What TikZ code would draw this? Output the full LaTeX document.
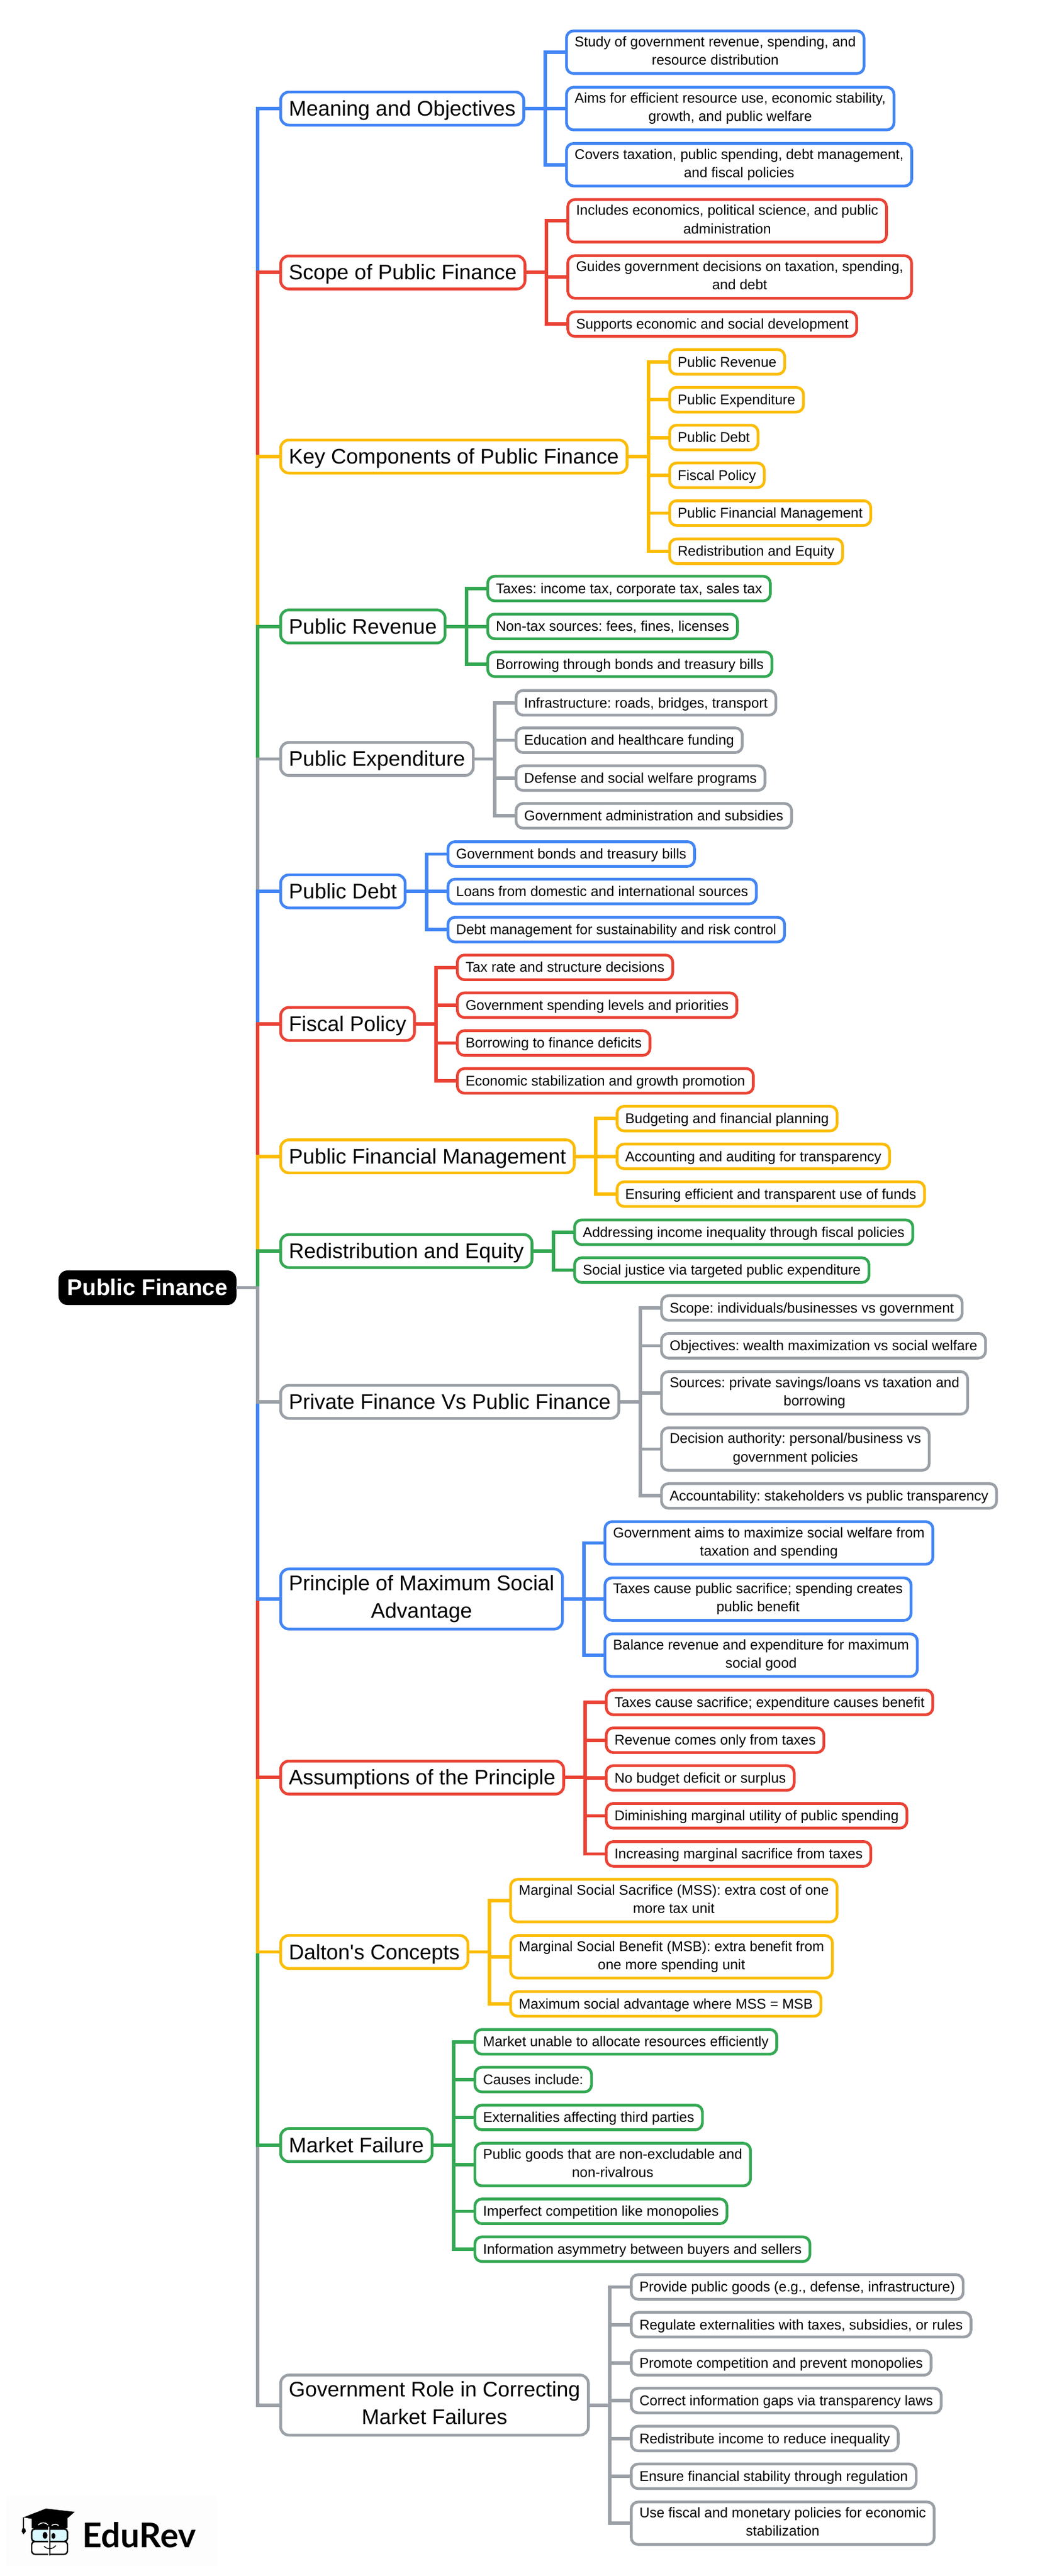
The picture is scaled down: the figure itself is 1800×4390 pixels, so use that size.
\documentclass[tikz,border=0pt]{standalone}
\usepackage{fontspec}
\usetikzlibrary{calc}
\newfontfamily\libsans{Liberation Sans}
\newfontfamily\libbold{Liberation Sans Bold}
\newfontfamily\latobold{Lato Bold}
\definecolor{gblue}{HTML}{4285F4}
\definecolor{gred}{HTML}{EA4335}
\definecolor{gamber}{HTML}{FBBC04}
\definecolor{ggreen}{HTML}{34A853}
\definecolor{ggray}{HTML}{9AA0A6}
\newcommand{\mystrut}{\leavevmode\vrule height .905em depth .212em width 0pt\relax}
\tikzset{
  basebox/.style={anchor=west,fill=white,outer sep=0pt,inner ysep=0pt,align=center,text=black,
    execute at begin node=\mystrut,execute at end node=\mystrut},
  mainbox/.style={basebox,draw=#1,line width=4.7pt,rounded corners=14pt,inner xsep=14pt,
    minimum height=56.3pt,font=\libsans\fontsize{36}{46.8}\selectfont\frenchspacing},
  mainboxtwo/.style={mainbox=#1,minimum height=102.4pt},
  leafbox/.style={basebox,draw=#1,line width=4.7pt,rounded corners=12pt,inner xsep=14pt,
    minimum height=42pt,font=\libsans\fontsize{24}{31.2}\selectfont\frenchspacing},
  leafboxtwo/.style={leafbox=#1,minimum height=72.5pt},
  rootbox/.style={anchor=west,fill=black,draw=black,line width=1pt,rounded corners=15pt,outer sep=0pt,
    inner xsep=14.5pt,inner ysep=0pt,minimum height=58pt,text=white,
    execute at begin node=\mystrut,execute at end node=\mystrut,
    font=\libbold\fontsize{38.7}{50}\selectfont},
  link/.style={draw=#1,line width=5.8pt,line join=miter,line cap=butt},
}
\begin{document}
\begin{tikzpicture}[x=1pt,y=-1pt]
\useasboundingbox (0,0) rectangle (1800,4390);
\fill[white] (0,0) rectangle (1800,4390);
% root
\node[rootbox] (root) at (100.2,2194.5) {Public Finance};
% main branches
\node[mainbox=gblue] (m) at (478.2,185) {Meaning and Objectives};
\node[mainbox=gred] (s) at (478.2,464.3) {Scope of Public Finance};
\node[mainbox=gamber] (k) at (478.2,778) {Key Components of Public Finance};
\node[mainbox=ggreen] (rv) at (478.2,1067.6) {Public Revenue};
\node[mainbox=ggray] (ex) at (478.2,1293.4) {Public Expenditure};
\node[mainbox=gblue] (db) at (478.2,1519) {Public Debt};
\node[mainbox=gred] (fp) at (478.2,1745) {Fiscal Policy};
\node[mainbox=gamber] (pf) at (478.2,1970.7) {Public Financial Management};
\node[mainbox=ggreen] (rd) at (478.2,2132) {Redistribution and Equity};
\node[mainbox=ggray] (pv) at (478.2,2389) {Private Finance Vs Public Finance};
\node[mainboxtwo=gblue] (pr) at (478.2,2725) {Principle of Maximum Social\\Advantage};
\node[mainbox=gred] (as) at (478.2,3029.3) {Assumptions of the Principle};
\node[mainbox=gamber] (dl) at (478.2,3326.5) {Dalton's Concepts};
\node[mainbox=ggreen] (mf) at (478.2,3655.6) {Market Failure};
\node[mainboxtwo=ggray] (gv) at (478.2,4098.7) {Government Role in Correcting\\Market Failures};
% leaves
\node[leafboxtwo=gblue] (m1) at (965.2,89) {Study of government revenue, spending, and\\resource distribution};
\node[leafboxtwo=gblue] (m2) at (965.2,185) {Aims for efficient resource use, economic stability,\\growth, and public welfare};
\node[leafboxtwo=gblue] (m3) at (965.2,280.7) {Covers taxation, public spending, debt management,\\and fiscal policies};
\node[leafboxtwo=gred] (s1) at (967.5,376.3) {Includes economics, political science, and public\\administration};
\node[leafboxtwo=gred] (s2) at (967.5,472) {Guides government decisions on taxation, spending,\\and debt};
\node[leafbox=gred] (s3) at (967.5,552.3) {Supports economic and social development};
\node[leafbox=gamber] (k1) at (1140.9,616.7) {Public Revenue};
\node[leafbox=gamber] (k2) at (1140.9,681.2) {Public Expenditure};
\node[leafbox=gamber] (k3) at (1140.9,745.6) {Public Debt};
\node[leafbox=gamber] (k4) at (1140.9,810) {Fiscal Policy};
\node[leafbox=gamber] (k5) at (1140.9,874.4) {Public Financial Management};
\node[leafbox=gamber] (k6) at (1140.9,939.5) {Redistribution and Equity};
\node[leafbox=ggreen] (rv1) at (831,1003) {Taxes: income tax, corporate tax, sales tax};
\node[leafbox=ggreen] (rv2) at (831,1067.6) {Non-tax sources: fees, fines, licenses};
\node[leafbox=ggreen] (rv3) at (831,1132) {Borrowing through bonds and treasury bills};
\node[leafbox=ggray] (ex1) at (879.2,1197.7) {Infrastructure: roads, bridges, transport};
\node[leafbox=ggray] (ex2) at (879.2,1261.5) {Education and healthcare funding};
\node[leafbox=ggray] (ex3) at (879.2,1326) {Defense and social welfare programs};
\node[leafbox=ggray] (ex4) at (879.2,1390.3) {Government administration and subsidies};
\node[leafbox=gblue] (db1) at (763.2,1455.4) {Government bonds and treasury bills};
\node[leafbox=gblue] (db2) at (763.2,1519.2) {Loans from domestic and international sources};
\node[leafbox=gblue] (db3) at (763.2,1584.2) {Debt management for sustainability and risk control};
\node[leafbox=gred] (fp1) at (779.3,1648.6) {Tax rate and structure decisions};
\node[leafbox=gred] (fp2) at (779.3,1713) {Government spending levels and priorities};
\node[leafbox=gred] (fp3) at (779.3,1777.5) {Borrowing to finance deficits};
\node[leafbox=gred] (fp4) at (779.3,1842) {Economic stabilization and growth promotion};
\node[leafbox=gamber] (pf1) at (1051.4,1906.3) {Budgeting and financial planning};
\node[leafbox=gamber] (pf2) at (1051.4,1970.7) {Accounting and auditing for transparency};
\node[leafbox=gamber] (pf3) at (1051.4,2035) {Ensuring efficient and transparent use of funds};
\node[leafbox=ggreen] (rd1) at (979,2100) {Addressing income inequality through fiscal policies};
\node[leafbox=ggreen] (rd2) at (979,2164.5) {Social justice via targeted public expenditure};
\node[leafbox=ggray] (pv1) at (1127.1,2229) {Scope: individuals/businesses vs government};
\node[leafbox=ggray] (pv2) at (1127.1,2293.4) {Objectives: wealth maximization vs social welfare};
\node[leafboxtwo=ggray] (pv3) at (1127.1,2373.7) {Sources: private savings/loans vs taxation and\\borrowing};
\node[leafboxtwo=ggray] (pv4) at (1127.1,2469.4) {Decision authority: personal/business vs\\government policies};
\node[leafbox=ggray] (pv5) at (1127.1,2549.3) {Accountability: stakeholders vs public transparency};
\node[leafboxtwo=gblue] (pr1) at (1030.7,2629.5) {Government aims to maximize social welfare from\\taxation and spending};
\node[leafboxtwo=gblue] (pr2) at (1030.7,2725.2) {Taxes cause public sacrifice; spending creates\\public benefit};
\node[leafboxtwo=gblue] (pr3) at (1030.7,2820.8) {Balance revenue and expenditure for maximum\\social good};
\node[leafbox=gred] (as1) at (1033,2901.2) {Taxes cause sacrifice; expenditure causes benefit};
\node[leafbox=gred] (as2) at (1033,2965.6) {Revenue comes only from taxes};
\node[leafbox=gred] (as3) at (1033,3030) {No budget deficit or surplus};
\node[leafbox=gred] (as4) at (1033,3094.4) {Diminishing marginal utility of public spending};
\node[leafbox=gred] (as5) at (1033,3159.4) {Increasing marginal sacrifice from taxes};
\node[leafboxtwo=gamber] (dl1) at (870,3239) {Marginal Social Sacrifice (MSS): extra cost of one\\more tax unit};
\node[leafboxtwo=gamber] (dl2) at (870,3334.8) {Marginal Social Benefit (MSB): extra benefit from\\one more spending unit};
\node[leafbox=gamber] (dl3) at (870,3415) {Maximum social advantage where MSS = MSB};
\node[leafbox=ggreen] (mf1) at (809.1,3479.6) {Market unable to allocate resources efficiently};
\node[leafbox=ggreen] (mf2) at (809.1,3544) {Causes include:};
\node[leafbox=ggreen] (mf3) at (809.1,3608.5) {Externalities affecting third parties};
\node[leafboxtwo=ggreen] (mf4) at (809.1,3688.8) {Public goods that are non-excludable and\\non-rivalrous};
\node[leafbox=ggreen] (mf5) at (809.1,3768.5) {Imperfect competition like monopolies};
\node[leafbox=ggreen] (mf6) at (809.1,3833) {Information asymmetry between buyers and sellers};
\node[leafbox=ggray] (gv1) at (1075.5,3897.4) {Provide public goods (e.g., defense, infrastructure)};
\node[leafbox=ggray] (gv2) at (1075.5,3961.7) {Regulate externalities with taxes, subsidies, or rules};
\node[leafbox=ggray] (gv3) at (1075.5,4026.7) {Promote competition and prevent monopolies};
\node[leafbox=ggray] (gv4) at (1075.5,4091) {Correct information gaps via transparency laws};
\node[leafbox=ggray] (gv5) at (1075.5,4155.7) {Redistribute income to reduce inequality};
\node[leafbox=ggray] (gv6) at (1075.5,4220) {Ensure financial stability through regulation};
\node[leafboxtwo=ggray] (gv7) at (1075.5,4300) {Use fiscal and monetary policies for economic\\stabilization};
% trunk: outer branches first, so that each stretch shows the colour of the nearer branch
\foreach \n/\c in {m/gblue,s/gred,k/gamber,rv/ggreen,ex/ggray,db/gblue,fp/gred,pf/gamber,rd/ggreen,
                   gv/ggray,mf/ggreen,dl/gamber,as/gred,pr/gblue,pv/ggray}
  \draw[link=\c] (root.east) -- ++(37,0) |- (\n.west);
% leaf connectors
\foreach \p/\c/\l in {m/gblue/{m1,m2,m3},s/gred/{s1,s2,s3},k/gamber/{k1,k2,k3,k4,k5,k6},
    rv/ggreen/{rv1,rv2,rv3},ex/ggray/{ex1,ex2,ex3,ex4},db/gblue/{db1,db2,db3},fp/gred/{fp1,fp2,fp3,fp4},
    pf/gamber/{pf1,pf2,pf3},rd/ggreen/{rd1,rd2},pv/ggray/{pv1,pv2,pv3,pv4,pv5},pr/gblue/{pr1,pr2,pr3},
    as/gred/{as1,as2,as3,as4,as5},dl/gamber/{dl1,dl2,dl3},mf/ggreen/{mf1,mf2,mf3,mf4,mf5,mf6},
    gv/ggray/{gv1,gv2,gv3,gv4,gv5,gv6,gv7}}
  \foreach \t in \l
    \draw[link=\c] (\p.east) -- ++(36.7,0) |- (\t.west);
% logo
\fill[black!0.7] (10,4254) rectangle (370,4373);
\node[anchor=base west,inner sep=0pt,text=black,font=\latobold\fontsize{58}{60}\selectfont] (brand) at (140,4341.7) {EduRev};
\fill[black,rounded corners=2pt] (54,4292) -- (54,4309) -- (115,4309) -- (115,4290) -- cycle;
\fill[black] (78.3,4275) -- (127.3,4280.7) -- (103.3,4301.7) -- (40,4290) -- cycle;
\draw[black,line width=1.5pt] (40,4290) -- (40,4310);
\fill[black] (38,4309) -- (43,4309) -- (44,4314) -- (40,4319) -- (37,4314) -- cycle;
\draw[white,line width=1.5pt] (65,4303) .. controls (70,4298) and (78,4298) .. (82,4303);
\draw[white,line width=1.5pt] (88,4304) .. controls (92,4301) and (96,4301) .. (100,4304);
\draw[black,line width=2.4pt,rounded corners=6pt,fill=white] (54,4331) rectangle (115,4353);
\draw[black,line width=2.6pt,rounded corners=5pt,fill=blue!15!cyan!15] (54,4310) rectangle (115,4331);
\draw[white,line width=3pt] (83.3,4306) -- (83.3,4355);
\draw[black,line width=1.5pt] (85,4306) -- (85,4355);
\fill[black] (76.7,4320.7) ellipse (4pt and 6pt);
\fill[black] (91,4321.7) ellipse (3.5pt and 5pt);
\draw[black,line width=1.4pt] (75,4339) .. controls (80,4345) and (90,4345) .. (95,4338);
\end{tikzpicture}
\end{document}
